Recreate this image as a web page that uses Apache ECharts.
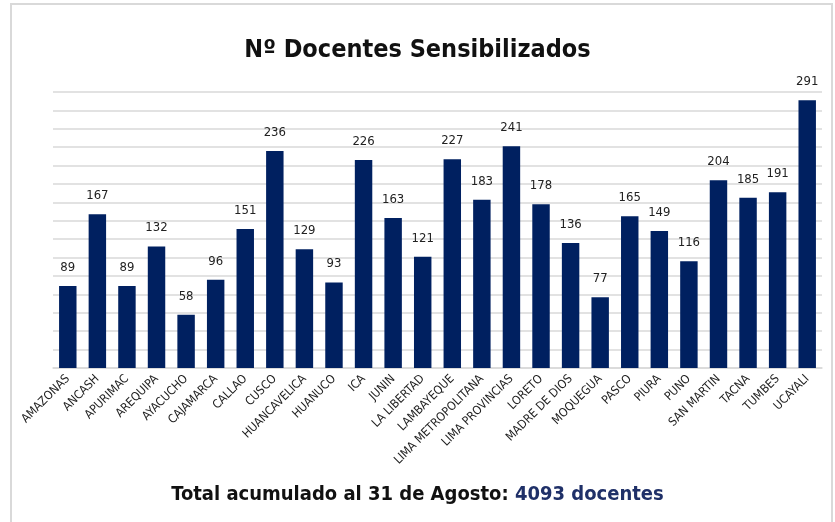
<!DOCTYPE html>
<html>
<head>
<meta charset="utf-8">
<script src="https://cdn.jsdelivr.net/npm/echarts@6/dist/echarts.min.js"></script>
<style>
  html, body { margin: 0; padding: 0; background: #fff; }
  #main { width: 835px; height: 522px; }
</style>
</head>
<body>
<div id="main"></div>
<script>
// regiones y docentes sensibilizados
const regiones = ["AMAZONAS", "ANCASH", "APURIMAC", "AREQUIPA", "AYACUCHO", "CAJAMARCA", "CALLAO", "CUSCO",
  "HUANCAVELICA", "HUANUCO", "ICA", "JUNIN", "LA LIBERTAD", "LAMBAYEQUE", "LIMA METROPOLITANA",
  "LIMA PROVINCIAS", "LORETO", "MADRE DE DIOS", "MOQUEGUA", "PASCO", "PIURA", "PUNO", "SAN MARTIN",
  "TACNA", "TUMBES", "UCAYALI"];
const docentes = [89, 167, 89, 132, 58, 96, 151, 236, 129, 93, 226, 163, 121, 227, 183, 241, 178, 136,
  77, 165, 149, 116, 204, 185, 191, 291];
const titulo = "Nº Docentes Sensibilizados";
const totalTexto = "Total acumulado al 31 de Agosto: ";
const totalValor = "4093 docentes";

const fuente = '"Liberation Sans Narrow", "DejaVu Sans Condensed", "Noto Sans", sans-serif';

var myChart = echarts.init(document.getElementById('main'));
var option = {
  backgroundColor: '#fff',
  animation: false,
  title: [{
    text: titulo,
    left: 'center',
    top: 33,
    textStyle: { fontFamily: fuente, fontSize: 25, fontWeight: 'bold', color: '#111' }
  }, {
    text: '{a|' + totalTexto + '}{b|' + totalValor + '}',
    left: 'center',
    top: 480,
    textStyle: {
      rich: {
        a: { fontFamily: fuente, fontSize: 20, fontWeight: 'bold', color: '#111' },
        b: { fontFamily: fuente, fontSize: 20, fontWeight: 'bold', color: '#1f3068' }
      }
    }
  }],
  graphic: [{
    type: 'rect',
    shape: { x: 11, y: 4, width: 821, height: 530 },
    style: { fill: 'none', stroke: '#d9d9d9', lineWidth: 2 },
    silent: true
  }],
  grid: { left: 53, right: 13, top: 92, bottom: 154 },
  xAxis: {
    type: 'category',
    data: regiones,
    axisTick: { show: false },
    axisLine: { lineStyle: { color: '#d9d9d9', width: 1.5 } },
    axisLabel: {
      interval: 0,
      rotate: 45,
      margin: 9,
      fontFamily: fuente,
      fontSize: 12,
      color: '#222'
    }
  },
  yAxis: {
    type: 'value',
    min: 0,
    max: 300,
    interval: 20,
    axisLabel: { show: false },
    axisLine: { show: false },
    axisTick: { show: false },
    splitLine: { lineStyle: { color: '#d9d9d9', width: 1.5 } }
  },
  series: [{
    type: 'bar',
    data: docentes,
    barWidth: '59%',
    itemStyle: { color: '#002060' },
    label: {
      show: true,
      position: 'top',
      distance: 12,
      fontFamily: fuente,
      fontSize: 13,
      color: '#222'
    }
  }]
};
myChart.setOption(option);
</script>
</body>
</html>
